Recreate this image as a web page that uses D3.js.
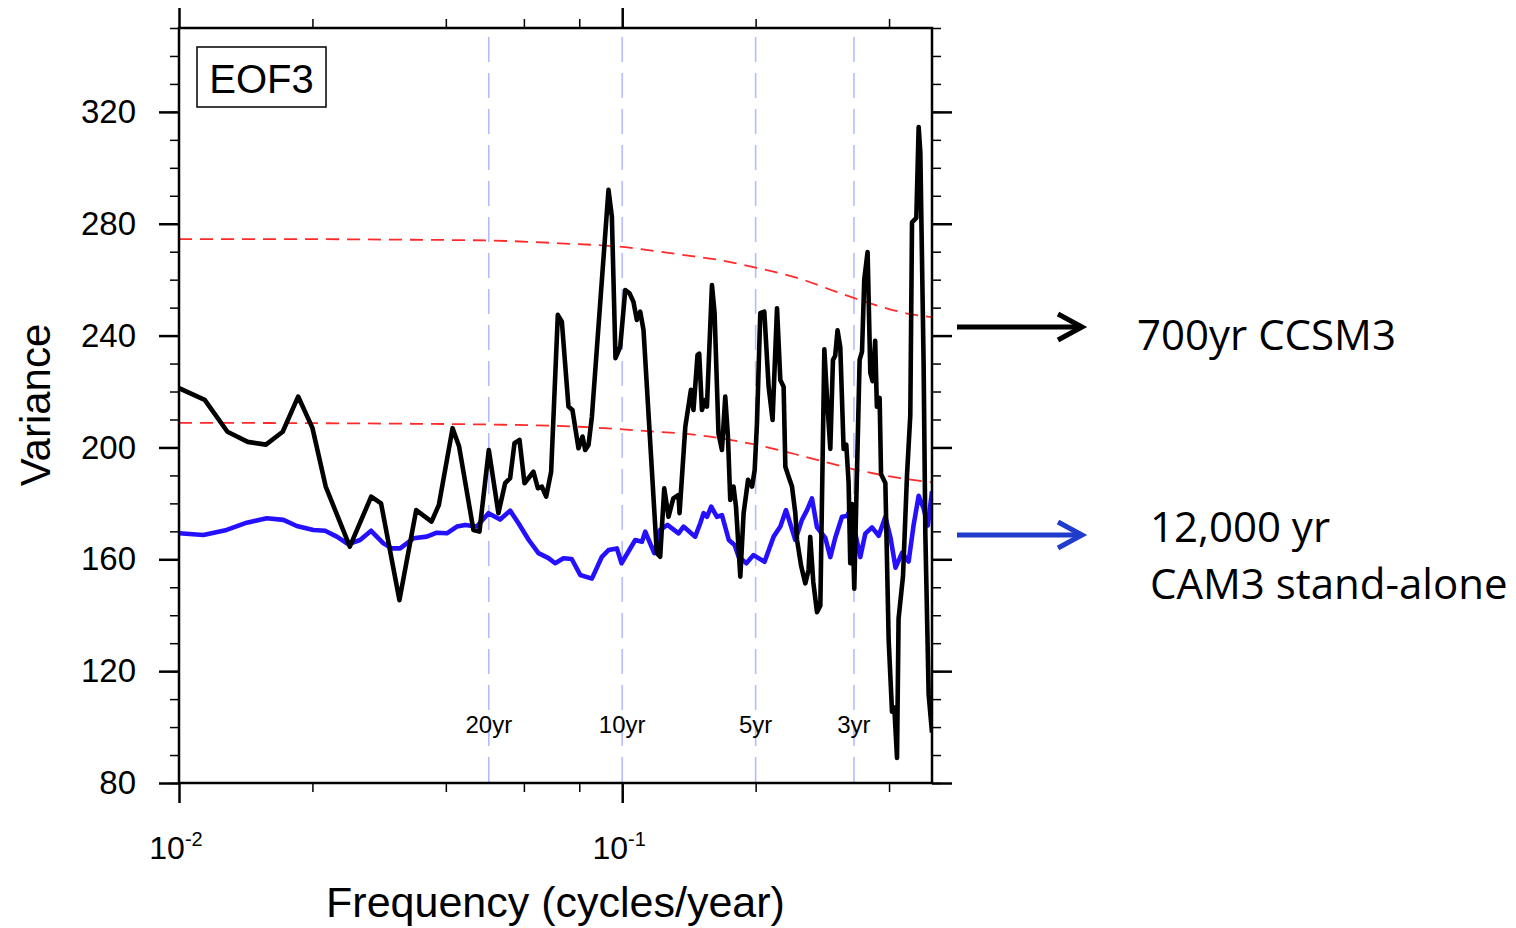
<!DOCTYPE html>
<meta charset="utf-8">
<script src="https://d3js.org/d3.v7.min.js"></script>
<style>
  body { margin: 0; background: #fff; }
  svg text { font-family: "Liberation Sans", Arial, Helvetica, sans-serif; }
</style>
<div id="my_dataviz"></div>
<script>

// ---- data (frequency in cycles/year, variance) ----
var ccsm3 = [
  [0.0100,221.2],[0.01143,217],[0.01286,205.6],[0.01429,202],[0.01571,201],[0.01714,205.6],
  [0.01857,218.2],[0.0200,207],[0.02143,186],[0.02429,164.5],[0.02714,182.4],[0.02857,180],
  [0.03143,145.4],[0.03429,177.6],[0.03714,173.5],[0.03857,179.4],[0.04143,206.9],[0.04286,200.3],
  [0.04616,170.5],[0.04763,169.9],[0.0500,199.1],[0.05256,176.5],[0.05443,187.2],[0.05586,189],
  [0.05714,201.5],[0.05865,202.7],[0.06019,187.2],[0.06306,191.3],[0.06452,185.4],[0.06588,186],
  [0.06737,182.4],[0.06913,191.3],[0.07157,247.4],[0.07308,245],[0.07564,214.6],[0.07721,213.4],
  [0.07969,199.7],[0.08137,203.9],[0.08252,199.1],[0.08394,200.9],[0.08543,211],[0.08919,251.6],
  [0.09312,292.1],[0.09477,282.5],[0.09657,231.9],[0.09897,236],[0.1016,256.3],[0.1039,255.1],
  [0.1060,252.1],[0.1079,245.6],[0.1098,248.6],[0.1117,242],[0.1197,162.2],[0.1218,160.9],
  [0.1244,185.4],[0.1272,175.2],[0.1304,181.8],[0.1340,183],[0.1347,176.5],[0.1388,207.4],
  [0.1429,220.6],[0.1448,213.4],[0.1479,233.1],[0.1492,233.5],[0.1513,213.4],[0.1540,217],
  [0.1553,214.6],[0.1594,258.1],[0.1616,248],[0.1649,205],[0.1679,199.1],[0.1708,218.2],
  [0.1732,203.9],[0.1753,181.2],[0.1783,186],[0.1806,178.8],[0.1847,153.8],[0.1879,176.5],
  [0.1923,188.4],[0.1963,186],[0.1990,191.9],[0.2014,208.6],[0.2049,248],[0.2092,248.6],
  [0.2140,221.7],[0.2184,209.8],[0.2235,249.8],[0.2274,224.1],[0.2313,221.7],[0.2334,193.1],
  [0.2374,189.5],[0.2416,186],[0.2458,176.5],[0.2480,166.9],[0.2535,157.4],[0.2589,151.4],
  [0.2633,156.2],[0.2656,168],[0.2698,152],[0.2751,141.1],[0.2799,143.4],[0.2858,235.1],
  [0.2898,217.7],[0.2948,199.5],[0.2989,231.3],[0.3024,232.8],[0.3061,241.9],[0.3105,235.8],
  [0.3159,199.5],[0.3203,201],[0.3242,187.3],[0.3270,158.6],[0.3299,179.8],[0.3339,149.5],
  [0.3378,184.3],[0.3433,231.3],[0.3476,234.3],[0.3517,260.1],[0.3578,269.9],[0.3629,226.7],
  [0.3672,223.7],[0.3722,238.1],[0.3755,214.6],[0.3809,217.7],[0.3837,190.4],[0.3924,187.3],
  [0.3992,131.2],[0.4062,105.5],[0.4111,107],[0.4169,89],[0.4203,138.8],[0.4301,154],
  [0.4392,190.4],[0.4467,211.6],[0.4507,280.5],[0.4609,282.1],[0.4665,314.6],[0.4706,305.5],
  [0.4787,229.8],[0.4830,169.2],[0.4914,111.6],[0.5000,98]
];

var cam3 = [
  [0.0100,169.3],[0.01135,168.7],[0.01281,170.5],[0.01422,173.1],[0.01578,174.7],[0.0172,174.1],
  [0.01844,171.9],[0.0201,170.5],[0.02136,170.2],[0.0227,168.1],[0.02412,165.4],[0.02562,166.9],
  [0.02713,170.2],[0.02892,165.7],[0.03021,163.9],[0.03154,163.9],[0.03381,167.5],[0.03624,168.1],
  [0.03817,169.5],[0.04021,169.3],[0.04236,171.7],[0.04423,172.3],[0.04699,171.7],[0.04991,176.5],
  [0.05303,174.2],[0.05586,177.4],[0.05834,172.9],[0.06154,166.9],[0.06472,162.2],[0.06819,160.4],
  [0.07057,158.6],[0.07369,160.4],[0.07692,160.1],[0.0804,154.4],[0.08543,153.1],[0.08998,160.9],
  [0.09312,163.3],[0.09728,163.9],[0.09964,158.6],[0.107,166.9],[0.1108,166.3],[0.1127,169.9],
  [0.1181,162.2],[0.1218,170.5],[0.1265,172.3],[0.134,169.3],[0.1375,171.7],[0.1461,168.1],
  [0.15,172.9],[0.1526,176.5],[0.1553,175.2],[0.1588,178.8],[0.1636,175.2],[0.1679,175.8],
  [0.174,166.9],[0.1793,165.1],[0.1831,160.9],[0.1906,158.6],[0.1978,161.5],[0.2095,159.1],
  [0.2196,168.1],[0.2274,171.7],[0.2342,177.6],[0.2458,166.9],[0.2544,174.1],[0.2612,177.6],
  [0.268,181.8],[0.2751,171.4],[0.2873,167.6],[0.2948,160.8],[0.3024,167.6],[0.3133,175.2],
  [0.3215,175.5],[0.3284,178.2],[0.3357,169.2],[0.3445,160.8],[0.3536,169.2],[0.366,171.4],
  [0.3791,168.4],[0.3924,175.2],[0.4032,167.6],[0.4137,157],[0.4279,162.3],[0.4428,159.2],
  [0.4543,172.1],[0.4665,182.7],[0.4787,178.2],[0.4893,172.1],[0.5,184.3]
];

// red-noise confidence curves
var redUpper = [[0.01,274.5],[0.0188,274.5],[0.0315,274.3],[0.05,274],[0.0724,273],[0.1,271.7],
  [0.135,269],[0.166,267],[0.2,264.3],[0.25,260.5],[0.3,256],[0.35,252.3],[0.4,249.5],[0.45,247.6],[0.5,246.6]];
var redLower = [[0.01,208.8],[0.0188,208.7],[0.0315,208.5],[0.05,208.2],[0.08,207.4],[0.11,206],
  [0.15,204.3],[0.2,201],[0.2656,196.2],[0.333,192.2],[0.424,189],[0.5,187.5]];

// reference periods
var periodFreq = [0.05, 0.1, 0.2, 0.3333];
var periodLabels = ["20yr", "10yr", "5yr", "3yr"];

// axis ticks
var yMajor = [80, 120, 160, 200, 240, 280, 320];
var xMajor = [0.01, 0.1];
var xMajorExp = ["-2", "-1"];
var xMinor = [0.02, 0.04, 0.06, 0.08, 0.2, 0.4];

// ---- layout ----
var margin = {top: 28, left: 179},
    width = 753,
    height = 755;

var svg = d3.select("#my_dataviz")
  .append("svg")
    .attr("width", 1516)
    .attr("height", 928);

var g = svg.append("g")
    .attr("transform", "translate(" + margin.left + "," + margin.top + ")");

var x = d3.scaleLog()
  .domain([0.01, 0.5])
  .range([0, width]);

var y = d3.scaleLinear()
  .domain([80, 350])
  .range([height, 0]);

g.append("clipPath").attr("id", "plotclip")
  .append("rect").attr("width", width).attr("height", height);

// vertical period lines
g.append("g").selectAll("line")
  .data(periodFreq)
  .enter()
  .append("line")
    .attr("x1", function(d) { return x(d); })
    .attr("x2", function(d) { return x(d); })
    .attr("y1", 9)
    .attr("y2", height)
    .attr("stroke", "#b4bcff")
    .attr("stroke-width", 1.6)
    .attr("stroke-dasharray", "25,11");

g.append("g").selectAll("text")
  .data(periodFreq)
  .enter()
  .append("text")
    .attr("x", function(d) { return x(d); })
    .attr("y", 705)
    .attr("text-anchor", "middle")
    .style("font-size", "24px")
    .text(function(d, i) { return periodLabels[i]; });

// lines
var line = d3.line()
  .x(function(d) { return x(d[0]); })
  .y(function(d) { return y(d[1]); });

var smooth = d3.line()
  .curve(d3.curveMonotoneX)
  .x(function(d) { return x(d[0]); })
  .y(function(d) { return y(d[1]); });

var plot = g.append("g").attr("clip-path", "url(#plotclip)");

[redUpper, redLower].forEach(function(r) {
  plot.append("path")
    .attr("d", smooth(r))
    .attr("fill", "none")
    .attr("stroke", "#ff2a2a")
    .attr("stroke-width", 1.8)
    .attr("stroke-dasharray", "13,8");
});

plot.append("path")
  .attr("d", line(cam3))
  .attr("fill", "none")
  .attr("stroke", "#2410ff")
  .attr("stroke-width", 4.6)
  .attr("stroke-linejoin", "round");

plot.append("path")
  .attr("d", line(ccsm3))
  .attr("fill", "none")
  .attr("stroke", "#000")
  .attr("stroke-width", 4.6)
  .attr("stroke-linejoin", "round");

// axes
function styleAxis(sel, w) {
  sel.select(".domain").remove();
  sel.selectAll(".tick line").attr("stroke", "#000").attr("stroke-width", w);
}

g.append("g")
  .call(d3.axisLeft(y).tickValues(d3.range(80, 351, 10)).tickSize(9).tickFormat(""))
  .call(styleAxis, 1.5);
g.append("g")
  .call(d3.axisLeft(y).tickValues(yMajor).tickSize(20).tickPadding(23))
  .call(styleAxis, 2.5)
  .selectAll("text").style("font-size", "33px").attr("fill", "#000")
  .attr("font-family", null);

g.append("g").attr("transform", "translate(" + width + ",0)")
  .call(d3.axisRight(y).tickValues(d3.range(80, 351, 10)).tickSize(9).tickFormat(""))
  .call(styleAxis, 1.5);
g.append("g").attr("transform", "translate(" + width + ",0)")
  .call(d3.axisRight(y).tickValues(yMajor).tickSize(20).tickFormat(""))
  .call(styleAxis, 2.5);

[["axisBottom", height], ["axisTop", 0]].forEach(function(a) {
  g.append("g").attr("transform", "translate(0," + a[1] + ")")
    .call(d3[a[0]](x).tickValues(xMinor).tickSize(9).tickFormat(""))
    .call(styleAxis, 1.5);
  g.append("g").attr("transform", "translate(0," + a[1] + ")")
    .call(d3[a[0]](x).tickValues(xMajor).tickSize(20).tickFormat(""))
    .call(styleAxis, 2.5);
});

// bottom tick labels 10^n
var xl = g.append("g").selectAll("text")
  .data(xMajor)
  .enter()
  .append("text")
    .attr("x", function(d) { return x(d) - 3; })
    .attr("y", height + 76)
    .attr("text-anchor", "middle")
    .style("font-size", "32px");
xl.append("tspan").text("10");
xl.append("tspan")
  .attr("dy", -13)
  .style("font-size", "20px")
  .text(function(d, i) { return xMajorExp[i]; });

// frame
g.append("rect")
  .attr("width", width)
  .attr("height", height)
  .attr("fill", "none")
  .attr("stroke", "#000")
  .attr("stroke-width", 2.5);

// EOF3 label box
g.append("rect")
  .attr("x", 18).attr("y", 19)
  .attr("width", 129).attr("height", 60)
  .attr("fill", "#fff")
  .attr("stroke", "#000")
  .attr("stroke-width", 1.5);
g.append("text")
  .attr("x", 82.5).attr("y", 65)
  .attr("text-anchor", "middle")
  .style("font-size", "40px")
  .text("EOF3");

// axis titles
svg.append("text")
  .attr("transform", "translate(50,405) rotate(-90)")
  .attr("text-anchor", "middle")
  .style("font-size", "42px")
  .text("Variance");

svg.append("text")
  .attr("x", margin.left + width / 2)
  .attr("y", 917)
  .attr("text-anchor", "middle")
  .style("font-size", "43px")
  .text("Frequency (cycles/year)");

// annotation arrows and texts
function arrow(yy, color) {
  svg.append("line")
    .attr("x1", 957).attr("x2", 1080)
    .attr("y1", yy).attr("y2", yy)
    .attr("stroke", color).attr("stroke-width", 5);
  svg.append("path")
    .attr("d", "M1058," + (yy - 13) + "L1082," + yy + "L1058," + (yy + 13))
    .attr("fill", "none")
    .attr("stroke", color).attr("stroke-width", 5)
    .attr("stroke-linejoin", "miter");
}
arrow(327, "#000");
arrow(535, "#1f3ccc");

var ann = [
  {t: "700yr CCSM3", x: 1137, y: 350},
  {t: "12,000 yr", x: 1150, y: 542},
  {t: "CAM3 stand-alone", x: 1150, y: 599}
];
svg.append("g").selectAll("text")
  .data(ann)
  .enter()
  .append("text")
    .attr("x", function(d) { return d.x; })
    .attr("y", function(d) { return d.y; })
    .style("font-family", "'Open Sans', sans-serif")
    .style("font-size", "42px")
    .text(function(d) { return d.t; });

</script>
